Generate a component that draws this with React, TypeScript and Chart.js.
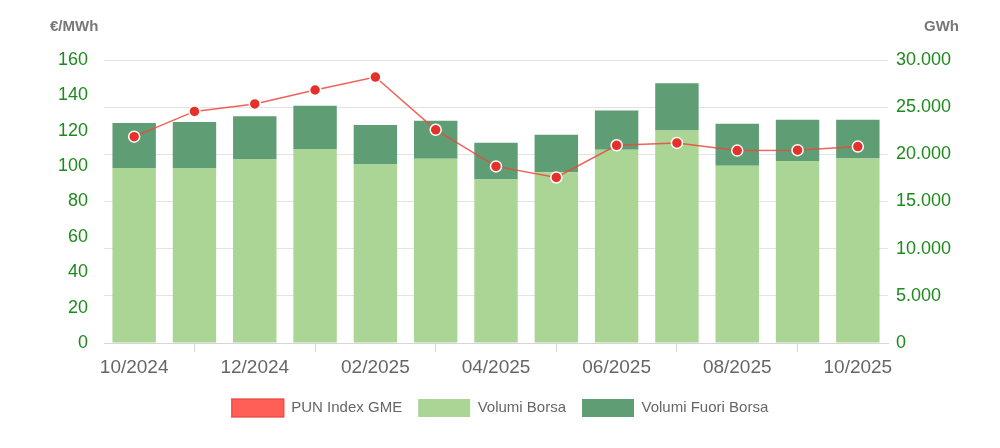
import React, { useEffect, useRef } from "react";
import { Chart, registerables } from "chart.js";

Chart.register(...registerables);

const categories = [
  "10/2024", "11/2024", "12/2024", "01/2025", "02/2025", "03/2025", "04/2025",
  "05/2025", "06/2025", "07/2025", "08/2025", "09/2025", "10/2025",
];
const punIndex = [116.67, 130.93, 135.17, 143.03, 150.36, 120.55, 99.85, 93.58, 111.78, 113.1, 108.79, 109.03, 111.04];
const volumiBorsa = [18560, 18490, 19510, 20570, 18910, 19540, 17320, 18090, 20490, 22530, 18800, 19300, 19570];
const volumiFuoriBorsa = [4750, 4930, 4540, 4570, 4190, 4010, 3910, 3980, 4150, 5010, 4440, 4360, 4090];

const leftTitle = "€/MWh";
const rightTitle = "GWh";
const FONT = '"Liberation Sans", Arial, Helvetica, sans-serif';
const GREEN_TEXT = "#1e8a1e";

function fmt(v: number) {
  return String(Math.round(v)).replace(/\B(?=(\d{3})+(?!\d))/g, ".");
}

const titlesPlugin = {
  id: "axisTitles",
  afterDraw(chart: any) {
    const ctx = chart.ctx;
    ctx.save();
    ctx.font = "bold 15px " + FONT;
    ctx.fillStyle = "#777";
    ctx.textBaseline = "alphabetic";
    ctx.textAlign = "left";
    ctx.fillText(leftTitle, 50, 31);
    ctx.textAlign = "right";
    ctx.fillText(rightTitle, 959, 31);
    ctx.restore();
  },
};

export default function App() {
  const ref = useRef<HTMLCanvasElement | null>(null);
  useEffect(() => {
    if (!ref.current) return;
    const chart = new Chart(ref.current, {
      type: "bar",
      data: {
        labels: categories,
        datasets: [
          {
            type: "line",
            label: "PUN Index GME",
            data: punIndex,
            yAxisID: "y",
            order: 0,
            borderColor: "rgba(235,70,60,0.85)",
            backgroundColor: "rgba(255,95,85,1)",
            borderWidth: 1.5,
            pointBackgroundColor: "#e5312b",
            pointBorderColor: "#ffffff",
            pointBorderWidth: 1.5,
            pointRadius: 5.5,
            tension: 0,
            fill: false,
          } as any,
          {
            type: "bar",
            label: "Volumi Borsa",
            data: volumiBorsa,
            yAxisID: "y1",
            stack: "v",
            order: 1,
            backgroundColor: "#abd595",
            borderColor: "#b5dba2",
            borderWidth: 0,
          },
          {
            type: "bar",
            label: "Volumi Fuori Borsa",
            data: volumiFuoriBorsa,
            yAxisID: "y1",
            stack: "v",
            order: 1,
            backgroundColor: "#5f9e74",
            borderColor: "#6aa77e",
            borderWidth: 0,
          },
        ],
      },
      options: {
        animation: false,
        responsive: true,
        maintainAspectRatio: false,
        layout: { padding: { top: 60, bottom: 21, left: 0, right: 0 } },
        plugins: {
          legend: {
            position: "bottom",
            labels: {
              boxWidth: 52,
              boxHeight: 18,
              padding: 16,
              color: "#666",
              font: { size: 15, family: FONT },
            },
          },
          tooltip: { enabled: false },
        },
        scales: {
          x: {
            stacked: true,
            afterFit: (s: any) => { s.height = 40; },
            border: { display: true, color: "#d6d6d6" },
            grid: {
              offset: false,
              drawOnChartArea: false,
              drawTicks: true,
              tickLength: 9,
              color: (c: any) => (c.index % 2 === 1 ? "#d6d6d6" : "rgba(0,0,0,0)"),
            },
            ticks: {
              autoSkip: false,
              maxRotation: 0,
              padding: 4,
              color: "#666",
              font: { size: 19, family: FONT },
              callback: (_v: any, i: number) => (i % 2 === 0 ? categories[i] : ""),
            },
          },
          y: {
            position: "left",
            min: 0,
            max: 160,
            afterFit: (s: any) => { s.width = 104; },
            border: { display: false },
            grid: { display: false, drawTicks: false },
            ticks: {
              stepSize: 20,
              padding: 16,
              color: GREEN_TEXT,
              font: { size: 18, family: FONT },
            },
          },
          y1: {
            position: "right",
            stacked: true,
            min: 0,
            max: 30000,
            afterFit: (s: any) => { s.width = 112; },
            border: { display: false },
            grid: { color: "#e3e3e3", drawTicks: false },
            ticks: {
              stepSize: 5000,
              padding: 8,
              color: GREEN_TEXT,
              font: { size: 18, family: FONT },
              callback: (v: any) => fmt(Number(v)),
            },
          },
        },
      },
      plugins: [titlesPlugin],
    });
    return () => chart.destroy();
  }, []);
  return (
    <div style={{ position: "fixed", left: 0, top: 0, width: 1000, height: 448, background: "#fff" }}>
      <canvas ref={ref} />
    </div>
  );
}
